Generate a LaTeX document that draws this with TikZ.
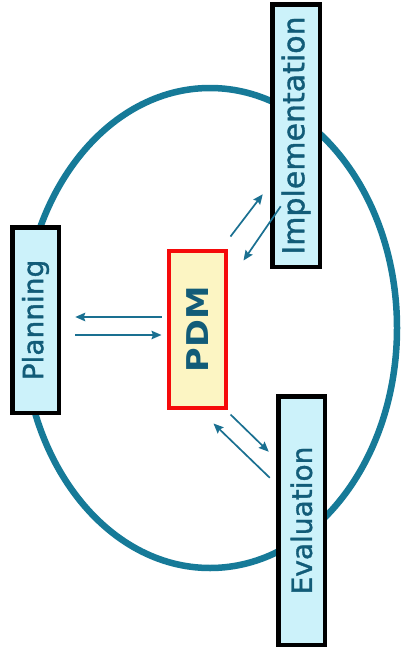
\documentclass[tikz,border=0pt]{standalone}
\usepackage{fontspec}
\setmainfont{DejaVu Sans}
\newfontfamily\heavyfont[FakeBold=1.2]{DejaVu Sans}
\usetikzlibrary{arrows.meta}
\definecolor{ringc}{RGB}{22,122,152}
\definecolor{txtc}{RGB}{18,92,120}
\definecolor{arrc}{RGB}{26,112,145}
\definecolor{cyanfill}{RGB}{204,242,250}
\definecolor{yelfill}{RGB}{252,245,195}
\definecolor{redc}{RGB}{245,10,10}
\tikzset{
  stagebox/.style={draw=black, line width=4.5pt, fill=cyanfill, inner sep=0pt, text=txtc},
  pdmbox/.style={draw=redc, line width=4pt, fill=yelfill, inner sep=0pt, text=txtc},
  arr/.style={draw=arrc, line width=1.7pt, -{Stealth[length=10pt,width=8.5pt,inset=1.5pt]}},
}
\begin{document}
\begin{tikzpicture}[x=1pt,y=-1pt]
\useasboundingbox[fill=white] (0,0) rectangle (403,653);
\draw[ringc, line width=6.5pt] (210,328) ellipse [x radius=187, y radius=240];
\node[stagebox, minimum width=46.5pt, minimum height=185.5pt] (planning) at (35.5,320)
  {\rotatebox{90}{\heavyfont\fontsize{28}{32}\selectfont Planning}};
\node[pdmbox, minimum width=57pt, minimum height=157pt] (pdm) at (197.5,329.5)
  {\rotatebox{90}{\scalebox{1.12}[1]{\fontsize{30}{34}\selectfont\bfseries PDM}}};
\node[stagebox, minimum width=47.5pt, minimum height=262.5pt] (impl) at (296,135.5)
  {\rotatebox{90}{\heavyfont\fontsize{30}{34}\selectfont Implementation}};
\node[stagebox, minimum width=46.5pt, minimum height=248.5pt] (eval) at (301.5,520.5)
  {\rotatebox{90}{\heavyfont\fontsize{28}{32}\selectfont Evaluation}};
% Planning <-> PDM
\draw[arr] ([xshift=-5.5pt,yshift=12.5pt]pdm.west) -- ([xshift=14.25pt,yshift=3pt]planning.east);
\draw[arr] ([xshift=14.25pt,yshift=-15pt]planning.east) -- ([xshift=-5.5pt,yshift=-5.5pt]pdm.west);
% PDM <-> Implementation
\draw[arr] ([xshift=2.5pt,yshift=12.5pt]pdm.north east) -- ([xshift=-7.25pt,yshift=74.75pt]impl.south west);
\draw[arr] ([xshift=10.75pt,yshift=62.75pt]impl.south west) -- ([xshift=15.5pt,yshift=-11.5pt]pdm.north east);
% PDM <-> Evaluation
\draw[arr] ([xshift=2.5pt,yshift=-4.5pt]pdm.south east) -- ([xshift=-7.25pt,yshift=-57.75pt]eval.north west);
\draw[arr] ([xshift=-6.25pt,yshift=-83.75pt]eval.north west) -- ([xshift=-14.5pt,yshift=-13.5pt]pdm.south east);
\end{tikzpicture}
\end{document}
